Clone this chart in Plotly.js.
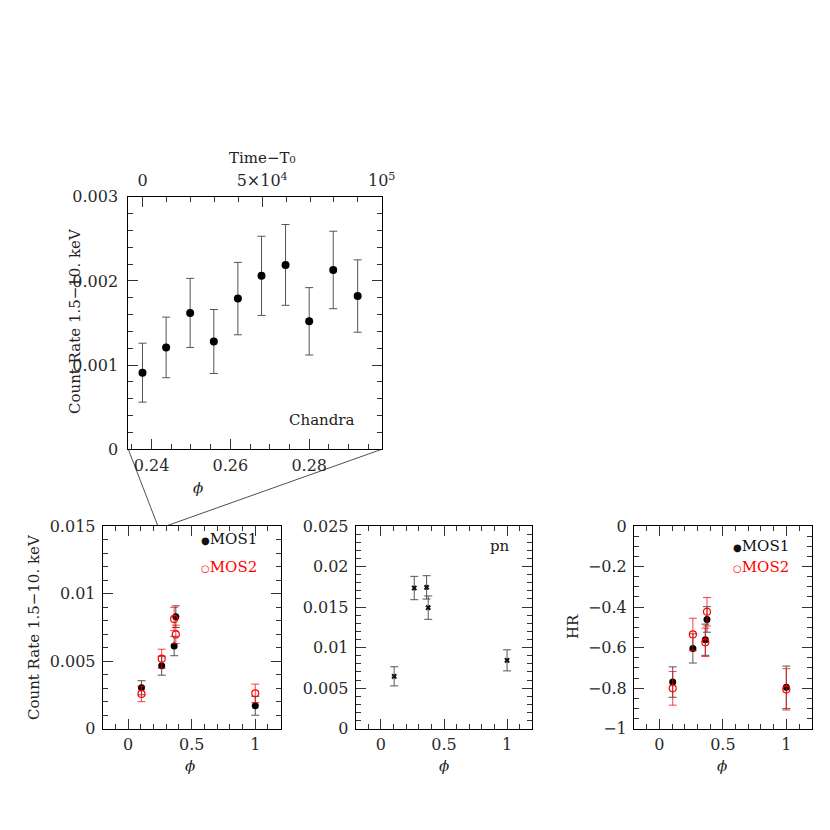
<!DOCTYPE html>
<html><head><meta charset="utf-8">
<script src="https://cdn.plot.ly/plotly-3.0.1.min.js"></script>
<style>html,body{margin:0;padding:0;background:#fff}#plot{width:830px;height:830px}</style>
</head><body><div id="plot"></div>
<script>
// ---- Chandra light curve (top panel) ----
const chandraPhase = [0.2377, 0.2437, 0.2498, 0.2558, 0.2619, 0.2679, 0.2740, 0.2800, 0.2861, 0.2923];
const chandraTime  = [0, 10000, 20000, 30000, 40000, 50000, 60000, 70000, 80000, 90000];
const chandraRate  = [0.00091, 0.00121, 0.00162, 0.00128, 0.00179, 0.00206, 0.00219, 0.00152, 0.00213, 0.00182];
const chandraErr   = [0.00035, 0.00036, 0.00041, 0.00038, 0.00043, 0.00047, 0.00048, 0.00040, 0.00046, 0.00043];

// ---- XMM phases ----
const xmmPhase = [0.105, 0.264, 0.362, 0.375, 1.0];
const mos1Rate = [0.00303, 0.00466, 0.00612, 0.00829, 0.00170];
const mos1Err  = [0.00052, 0.00070, 0.00072, 0.00080, 0.00070];
const mos2Rate = [0.00257, 0.00518, 0.00812, 0.00698, 0.00262];
const mos2Err  = [0.00057, 0.00070, 0.00086, 0.00068, 0.00068];
const pnRate   = [0.00646, 0.01735, 0.01743, 0.01493, 0.00843];
const pnErr    = [0.00118, 0.00144, 0.00144, 0.00144, 0.00130];
const hrMos1   = [-0.770, -0.604, -0.561, -0.461, -0.796];
const hrMos1Err= [0.075, 0.072, 0.077, 0.063, 0.105];
const hrMos2   = [-0.801, -0.535, -0.574, -0.423, -0.806];
const hrMos2Err= [0.083, 0.080, 0.070, 0.070, 0.102];

// tick labels
const timeTickVals = [0, 50000, 100000];
const timeTickText = ['0', '5×10<sup>4</sup>', '10<sup>5</sup>'];
const phiZoomTicks = [0.24, 0.26, 0.28];
const phiTicks = [0, 0.5, 1];
const phiTickText = ['0', '0.5', '1'];

const W = 830, H = 830;
const fx = p => p / W;
const fy = p => 1 - p / H;

const FONT = 'DejaVu Serif';
const tickFont = {family: FONT, size: 16, color: '#2a2a2a'};

const topDomX = [fx(128.3), fx(381.7)];
const topDomY = [fy(449.3), fy(196.7)];
const botDomY = [fy(728.7), fy(526)];
const b1DomX = [fx(102.7), fx(280.7)];
const b2DomX = [fx(355.7), fx(532.3)];
const b3DomX = [fx(634), fx(811.7)];

const phiZoomRange = [0.2341, 0.2984];
const timeRange = [-6025, 100000];
const phiRange = [-0.2, 1.2];

function baseAxis(extra) {
  return Object.assign({
    showgrid: false, zeroline: false, showline: true, linecolor: '#000', linewidth: 1,
    ticks: 'inside', ticklen: 10, tickwidth: 1, tickcolor: '#333',
    tickfont: tickFont, mirror: 'ticks', autorange: false, fixedrange: true,
    ticklabelstandoff: 3
  }, extra);
}

const errBlack = (arr) => ({type: 'data', array: arr, visible: true, color: '#555', thickness: 1, width: 4});
const errRed = (arr) => ({type: 'data', array: arr, visible: true, color: 'rgba(255,0,0,0.75)', thickness: 1, width: 4});

const traces = [
  {x: chandraPhase, y: chandraRate, xaxis: 'x', yaxis: 'y', type: 'scatter', mode: 'markers',
   marker: {color: '#000', size: 8, symbol: 'circle'}, error_y: errBlack(chandraErr), hoverinfo: 'skip'},
  {x: chandraTime, y: chandraRate, xaxis: 'x5', yaxis: 'y', type: 'scatter', mode: 'markers',
   marker: {color: 'rgba(0,0,0,0)', size: 1}, hoverinfo: 'skip', showlegend: false},

  {x: xmmPhase, y: mos1Rate, xaxis: 'x2', yaxis: 'y2', type: 'scatter', mode: 'markers',
   marker: {color: '#000', size: 7}, error_y: errBlack(mos1Err), hoverinfo: 'skip'},
  {x: xmmPhase, y: mos2Rate, xaxis: 'x2', yaxis: 'y2', type: 'scatter', mode: 'markers',
   marker: {color: '#f00', size: 7, symbol: 'circle-open', line: {color: '#f00', width: 1.2}},
   error_y: errRed(mos2Err), hoverinfo: 'skip'},

  {x: xmmPhase, y: pnRate, xaxis: 'x3', yaxis: 'y3', type: 'scatter', mode: 'markers',
   marker: {color: '#111', size: 5, symbol: 'x'}, error_y: errBlack(pnErr), hoverinfo: 'skip'},

  {x: xmmPhase, y: hrMos1, xaxis: 'x4', yaxis: 'y4', type: 'scatter', mode: 'markers',
   marker: {color: '#000', size: 7}, error_y: errBlack(hrMos1Err), hoverinfo: 'skip'},
  {x: xmmPhase, y: hrMos2, xaxis: 'x4', yaxis: 'y4', type: 'scatter', mode: 'markers',
   marker: {color: '#f00', size: 7, symbol: 'circle-open', line: {color: '#f00', width: 1.2}},
   error_y: errRed(hrMos2Err), hoverinfo: 'skip'}
];

// connector lines from the zoomed panel corners to the phase interval on the first XMM panel
function paperX(dom, range, v) { return dom[0] + (v - range[0]) / (range[1] - range[0]) * (dom[1] - dom[0]); }
const shapes = [
  {type: 'line', xref: 'paper', yref: 'paper', x0: topDomX[0], y0: topDomY[0],
   x1: paperX(b1DomX, phiRange, phiZoomRange[0]), y1: botDomY[1], line: {color: '#222', width: 0.8}},
  {type: 'line', xref: 'paper', yref: 'paper', x0: topDomX[1], y0: topDomY[0],
   x1: paperX(b1DomX, phiRange, phiZoomRange[1]), y1: botDomY[1], line: {color: '#222', width: 0.8}}
];

function ann(text, x, y, opts) {
  return Object.assign({text: text, x: fx(x), y: fy(y), xref: 'paper', yref: 'paper', showarrow: false,
    xanchor: 'center', yanchor: 'middle', font: {family: FONT, size: 15, color: '#222'}}, opts || {});
}
const dot = '<span style="font-size:10px">●</span>';
const ring = '<span style="font-size:10px">○</span>';
const annotations = [
  ann('Count Rate 1.5−10. keV', 75, 321, {textangle: -90}),
  ann('<i>ϕ</i>', 198, 488),
  ann('Time−T₀', 262, 158),
  ann('Chandra', 322, 420),
  ann('Count Rate 1.5−10. keV', 34, 627, {textangle: -90}),
  ann('<i>ϕ</i>', 190, 766),
  ann('<i>ϕ</i>', 444, 766),
  ann('<i>ϕ</i>', 722, 766),
  ann('HR', 573, 627, {textangle: -90}),
  ann('pn', 500, 546),
  ann(dot + 'MOS1', 259, 539, {xanchor: 'right', font: {family: FONT, size: 15, color: '#111'}}),
  ann(ring + 'MOS2', 259, 567, {xanchor: 'right', font: {family: FONT, size: 15, color: '#f00'}}),
  ann(dot + 'MOS1', 791, 546, {xanchor: 'right', font: {family: FONT, size: 15, color: '#111'}}),
  ann(ring + 'MOS2', 791, 567, {xanchor: 'right', font: {family: FONT, size: 15, color: '#f00'}})
];

const layout = {
  width: W, height: H, margin: {l: 0, r: 0, t: 0, b: 0}, showlegend: false,
  paper_bgcolor: '#fff', plot_bgcolor: 'rgba(0,0,0,0)',
  xaxis: baseAxis({domain: topDomX, anchor: 'y', range: phiZoomRange, tickvals: phiZoomTicks,
    ticktext: ['0.24', '0.26', '0.28'], mirror: false, ticklabelstandoff: 1,
    minor: {ticks: 'inside', dtick: 0.005, tick0: 0.24, ticklen: 5, tickcolor: '#333'}}),
  xaxis5: baseAxis({overlaying: 'x', side: 'top', anchor: 'y', range: timeRange, tickvals: timeTickVals,
    ticktext: timeTickText, mirror: false,
    minor: {ticks: 'inside', dtick: 10000, tick0: 0, ticklen: 5, tickcolor: '#333'}}),
  yaxis: baseAxis({domain: topDomY, anchor: 'x', range: [0, 0.003], tickvals: [0, 0.001, 0.002, 0.003],
    ticktext: ['0', '0.001', '0.002', '0.003'], ticklabelstandoff: 6,
    minor: {ticks: 'inside', dtick: 0.0002, tick0: 0, ticklen: 5, tickcolor: '#333'}}),

  xaxis2: baseAxis({domain: b1DomX, anchor: 'y2', range: phiRange, tickvals: phiTicks, ticktext: phiTickText,
    ticklabelstandoff: 1,
    minor: {ticks: 'inside', dtick: 0.1, tick0: 0, ticklen: 5, tickcolor: '#333'}}),
  yaxis2: baseAxis({domain: botDomY, anchor: 'x2', range: [0, 0.015], tickvals: [0, 0.005, 0.01, 0.015],
    ticktext: ['0', '0.005', '0.01', '0.015'],
    minor: {ticks: 'inside', dtick: 0.001, tick0: 0, ticklen: 5, tickcolor: '#333'}}),

  xaxis3: baseAxis({domain: b2DomX, anchor: 'y3', range: phiRange, tickvals: phiTicks, ticktext: phiTickText,
    ticklabelstandoff: 1,
    minor: {ticks: 'inside', dtick: 0.1, tick0: 0, ticklen: 5, tickcolor: '#333'}}),
  yaxis3: baseAxis({domain: botDomY, anchor: 'x3', range: [0, 0.025],
    tickvals: [0, 0.005, 0.01, 0.015, 0.02, 0.025], ticktext: ['0', '0.005', '0.01', '0.015', '0.02', '0.025'],
    minor: {ticks: 'inside', dtick: 0.001, tick0: 0, ticklen: 5, tickcolor: '#333'}}),

  xaxis4: baseAxis({domain: b3DomX, anchor: 'y4', range: phiRange, tickvals: phiTicks, ticktext: phiTickText,
    ticklabelstandoff: 1,
    minor: {ticks: 'inside', dtick: 0.1, tick0: 0, ticklen: 5, tickcolor: '#333'}}),
  yaxis4: baseAxis({domain: botDomY, anchor: 'x4', range: [-1, 0],
    tickvals: [-1, -0.8, -0.6, -0.4, -0.2, 0], ticktext: ['−1', '−0.8', '−0.6', '−0.4', '−0.2', '0'],
    minor: {ticks: 'inside', dtick: 0.05, tick0: 0, ticklen: 5, tickcolor: '#333'}}),

  shapes: shapes,
  annotations: annotations
};

Plotly.newPlot('plot', traces, layout, {staticPlot: true, displayModeBar: false});
</script>
</body></html>
